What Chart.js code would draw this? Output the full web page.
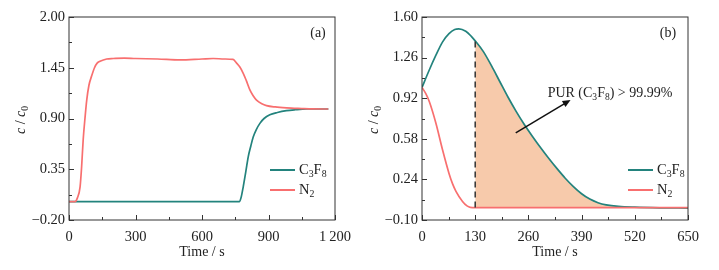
<!DOCTYPE html>
<html>
<head>
<meta charset="utf-8">
<script src="https://cdn.jsdelivr.net/npm/chart.js@4.4.1/dist/chart.umd.min.js"></script>
<style>
  body { margin: 0; background: #fff; }
  .panel { position: absolute; top: 0; }
</style>
</head>
<body>
<div class="panel" style="left:0"><canvas id="chartA" width="360" height="270"></canvas></div>
<div class="panel" style="left:360px"><canvas id="chartB" width="359" height="270"></canvas></div>
<script>
// panel (a)
const timeA_C3F8 = [0, 768, 777, 786, 798, 809, 820, 831, 845, 862, 880, 906, 940, 981, 1020, 1072, 1170];
const valA_C3F8 = [0, 0, 0.05, 0.16, 0.33, 0.49, 0.60, 0.70, 0.78, 0.85, 0.90, 0.94, 0.965, 0.985, 0.995, 1.003, 1.003];
const timeA_N2 = [0, 27, 38, 50, 57, 64, 72, 80, 90, 102, 115, 127, 140, 170, 200, 250, 300, 400, 500, 600, 650, 700, 740, 756, 770, 786, 800, 816, 830, 846, 870, 891, 930, 981, 1050, 1100, 1170];
const valA_N2 = [0, 0, 0.04, 0.16, 0.38, 0.67, 0.90, 1.10, 1.26, 1.36, 1.45, 1.50, 1.52, 1.545, 1.55, 1.555, 1.55, 1.545, 1.535, 1.545, 1.55, 1.545, 1.54, 1.50, 1.46, 1.39, 1.31, 1.21, 1.15, 1.10, 1.06, 1.04, 1.025, 1.015, 1.008, 1.004, 1.003];
const xTicksA = [0, 300, 600, 900, 1200];
const xLabelsA = ['0', '300', '600', '900', '1\u2009200'];
const yTicksA = [-0.20, 0.35, 0.90, 1.45, 2.00];
const yLabelsA = ['\u22120.20', '0.35', '0.90', '1.45', '2.00'];

// panel (b)
const timeB_C3F8 = [0, 17, 34, 50, 66, 80, 90, 107, 120, 130, 150, 170, 190, 210, 230, 250, 270, 290, 310, 330, 350, 370, 390, 410, 430, 450, 480, 520, 580, 650];
const valB_C3F8 = [1.01, 1.15, 1.28, 1.39, 1.46, 1.495, 1.50, 1.48, 1.44, 1.40, 1.31, 1.19, 1.06, 0.93, 0.81, 0.70, 0.60, 0.505, 0.415, 0.33, 0.25, 0.18, 0.12, 0.075, 0.045, 0.027, 0.014, 0.007, 0.002, 0.0];
const timeB_N2 = [0, 9, 18, 34, 50, 66, 75, 83, 99, 110, 118, 130, 300, 500, 650];
const valB_N2 = [1.01, 0.96, 0.89, 0.71, 0.49, 0.29, 0.20, 0.14, 0.055, 0.018, 0.006, 0.004, 0.004, 0.004, 0.004];
const xTicksB = [0, 130, 260, 390, 520, 650];
const xLabelsB = ['0', '130', '260', '390', '520', '650'];
const yTicksB = [-0.10, 0.24, 0.58, 0.92, 1.26, 1.60];
const yLabelsB = ['\u22120.10', '0.24', '0.58', '0.92', '1.26', '1.60'];
const cutTime = 130;
const arrowFrom = { x: 229, y: 0.63 };
const arrowTo = { x: 363, y: 0.905 };
const purText = { x: 307, y: 0.96 };

const TEAL = '#23837d';
const RED = '#f86f6f';
const FILL = 'rgba(246, 193, 156, 0.85)';
const INK = '#222';
const FONT = 'Liberation Serif';
const FS = 14.5;

function pts(xs, ys) {
  return xs.map((x, i) => ({ x: x, y: ys[i] }));
}

// parts: [text, kind] where kind is '' (normal), 'i' (italic) or 's' (subscript)
function richWidth(ctx, parts, size) {
  let w = 0;
  parts.forEach(p => {
    ctx.font = (p[1] === 'i' ? 'italic ' : '') + (p[1] === 's' ? size * 0.68 : size) + 'px "' + FONT + '"';
    w += ctx.measureText(p[0]).width;
  });
  return w;
}
function drawRich(ctx, parts, x, y, size) {
  ctx.textBaseline = 'middle';
  ctx.textAlign = 'left';
  parts.forEach(p => {
    const sub = p[1] === 's';
    ctx.font = (p[1] === 'i' ? 'italic ' : '') + (sub ? size * 0.68 : size) + 'px "' + FONT + '"';
    ctx.fillText(p[0], x, sub ? y + size * 0.3 : y);
    x += ctx.measureText(p[0]).width;
  });
}

const c3f8Parts = [['C', ''], ['3', 's'], ['F', ''], ['8', 's']];
const n2Parts = [['N', ''], ['2', 's']];

const frame = {
  id: 'frame',
  afterDraw(chart, args, opts) {
    const ctx = chart.ctx, a = chart.chartArea, xs = chart.scales.x, ys = chart.scales.y;
    ctx.save();
    ctx.strokeStyle = '#333';
    ctx.lineWidth = 1;
    ctx.strokeRect(a.left, a.top, a.right - a.left, a.bottom - a.top);
    const xt = opts.xTicks, yt = opts.yTicks;
    ctx.beginPath();
    xt.forEach((v, i) => {
      let p = Math.round(xs.getPixelForValue(v)) + 0.5;
      ctx.moveTo(p, a.bottom); ctx.lineTo(p, a.bottom - 5);
      if (i < xt.length - 1) {
        p = Math.round(xs.getPixelForValue((v + xt[i + 1]) / 2)) + 0.5;
        ctx.moveTo(p, a.bottom); ctx.lineTo(p, a.bottom - 3);
      }
    });
    yt.forEach((v, i) => {
      let p = Math.round(ys.getPixelForValue(v)) + 0.5;
      ctx.moveTo(a.left, p); ctx.lineTo(a.left + 5, p);
      if (i < yt.length - 1) {
        p = Math.round(ys.getPixelForValue((v + yt[i + 1]) / 2)) + 0.5;
        ctx.moveTo(a.left, p); ctx.lineTo(a.left + 3, p);
      }
    });
    ctx.stroke();

    ctx.fillStyle = INK;
    // axis titles
    ctx.textAlign = 'center';
    ctx.textBaseline = 'middle';
    ctx.font = '14px "' + FONT + '"';
    ctx.fillText('Time / s', (a.left + a.right) / 2, 252);
    const yParts = [['c', 'i'], [' / ', ''], ['c', 'i'], ['0', 's']];
    ctx.save();
    ctx.translate(a.left - 48, 120);
    ctx.rotate(-Math.PI / 2);
    drawRich(ctx, yParts, -richWidth(ctx, yParts, 14) / 2, 0, 14);
    ctx.restore();

    // panel label
    ctx.textAlign = 'center';
    ctx.font = '14px "' + FONT + '"';
    ctx.fillText(opts.label, a.right - opts.labelInset, 33);

    // legend
    const lx = a.right - opts.legendInset;
    [[c3f8Parts, TEAL, 170], [n2Parts, RED, 190]].forEach(item => {
      ctx.strokeStyle = item[1];
      ctx.lineWidth = 2;
      ctx.beginPath();
      ctx.moveTo(lx, item[2]); ctx.lineTo(lx + 25, item[2]);
      ctx.stroke();
      ctx.fillStyle = INK;
      drawRich(ctx, item[0], lx + 29, item[2], FS);
    });
    ctx.restore();
  }
};

const annotateB = {
  id: 'annotateB',
  afterDatasetsDraw(chart) {
    const ctx = chart.ctx, xs = chart.scales.x, ys = chart.scales.y;
    ctx.save();
    // dashed cut line
    const cx = xs.getPixelForValue(cutTime);
    const iCut = timeB_C3F8.indexOf(cutTime);
    ctx.strokeStyle = '#333';
    ctx.lineWidth = 1.5;
    ctx.setLineDash([6, 4]);
    ctx.beginPath();
    ctx.moveTo(cx, ys.getPixelForValue(valB_N2[valB_N2.length - 1]));
    ctx.lineTo(cx, ys.getPixelForValue(valB_C3F8[iCut]));
    ctx.stroke();
    ctx.setLineDash([]);
    // arrow
    const x0 = xs.getPixelForValue(arrowFrom.x), y0 = ys.getPixelForValue(arrowFrom.y);
    const x1 = xs.getPixelForValue(arrowTo.x), y1 = ys.getPixelForValue(arrowTo.y);
    const ang = Math.atan2(y1 - y0, x1 - x0);
    ctx.strokeStyle = '#111';
    ctx.fillStyle = '#111';
    ctx.lineWidth = 1.5;
    ctx.beginPath();
    ctx.moveTo(x0, y0);
    ctx.lineTo(x1 - 5 * Math.cos(ang), y1 - 5 * Math.sin(ang));
    ctx.stroke();
    ctx.beginPath();
    ctx.moveTo(x1, y1);
    ctx.lineTo(x1 - 8 * Math.cos(ang) + 3.5 * Math.sin(ang), y1 - 8 * Math.sin(ang) - 3.5 * Math.cos(ang));
    ctx.lineTo(x1 - 8 * Math.cos(ang) - 3.5 * Math.sin(ang), y1 - 8 * Math.sin(ang) + 3.5 * Math.cos(ang));
    ctx.closePath();
    ctx.fill();
    // text
    ctx.fillStyle = INK;
    const parts = [['PUR (', ''], ['C', ''], ['3', 's'], ['F', ''], ['8', 's'], [') > 99.99%', '']];
    drawRich(ctx, parts, xs.getPixelForValue(purText.x), ys.getPixelForValue(purText.y), 14);
    ctx.restore();
  }
};

function scaleOpts(ticks, labels, min, max, yWidth) {
  const isY = yWidth > 0;
  return {
    type: 'linear',
    min: min,
    max: max,
    grid: { display: false, drawTicks: false },
    border: { display: false },
    afterBuildTicks: s => { s.ticks = ticks.map(v => ({ value: v })); },
    afterFit: s => { if (isY) s.width = yWidth; else s.height = 50; },
    ticks: {
      color: INK,
      padding: isY ? 4 : 8,
      maxRotation: 0,
      autoSkip: false,
      font: { family: FONT, size: FS },
      callback: (v, i) => labels[i]
    }
  };
}

function lineSet(label, data, color) {
  return {
    label: label, data: data, borderColor: color, borderWidth: 1.7,
    pointRadius: 0, cubicInterpolationMode: 'monotone', fill: false, order: 0
  };
}

new Chart(document.getElementById('chartA'), {
  type: 'line',
  data: {
    datasets: [
      lineSet('N2', pts(timeA_N2, valA_N2), RED),
      lineSet('C3F8', pts(timeA_C3F8, valA_C3F8), TEAL)
    ]
  },
  options: {
    responsive: false,
    animation: false,
    layout: { padding: { top: 17, right: 25, left: 0, bottom: 0 } },
    plugins: {
      legend: { display: false },
      tooltip: { enabled: false },
      frame: { xTicks: xTicksA, yTicks: yTicksA, label: '(a)', labelInset: 17, legendInset: 65 }
    },
    scales: {
      x: scaleOpts(xTicksA, xLabelsA, 0, 1200, 0),
      y: scaleOpts(yTicksA, yLabelsA, -0.2, 2.0, 69)
    }
  },
  plugins: [frame]
});

const fillIdx = timeB_C3F8.indexOf(cutTime);
new Chart(document.getElementById('chartB'), {
  type: 'line',
  data: {
    datasets: [
      lineSet('N2', pts(timeB_N2, valB_N2), RED),
      lineSet('C3F8', pts(timeB_C3F8, valB_C3F8), TEAL),
      {
        label: 'area', data: pts(timeB_C3F8.slice(fillIdx), valB_C3F8.slice(fillIdx)),
        borderWidth: 0, pointRadius: 0, cubicInterpolationMode: 'monotone',
        backgroundColor: FILL, fill: { value: valB_N2[valB_N2.length - 1] }, order: 2
      }
    ]
  },
  options: {
    responsive: false,
    animation: false,
    layout: { padding: { top: 17, right: 31, left: 0, bottom: 0 } },
    plugins: {
      legend: { display: false },
      tooltip: { enabled: false },
      filler: { propagate: false },
      frame: { xTicks: xTicksB, yTicks: yTicksB, label: '(b)', labelInset: 20, legendInset: 60 }
    },
    scales: {
      x: scaleOpts(xTicksB, xLabelsB, 0, 650, 0),
      y: scaleOpts(yTicksB, yLabelsB, -0.1, 1.6, 62)
    }
  },
  plugins: [frame, annotateB]
});
</script>
</body>
</html>
